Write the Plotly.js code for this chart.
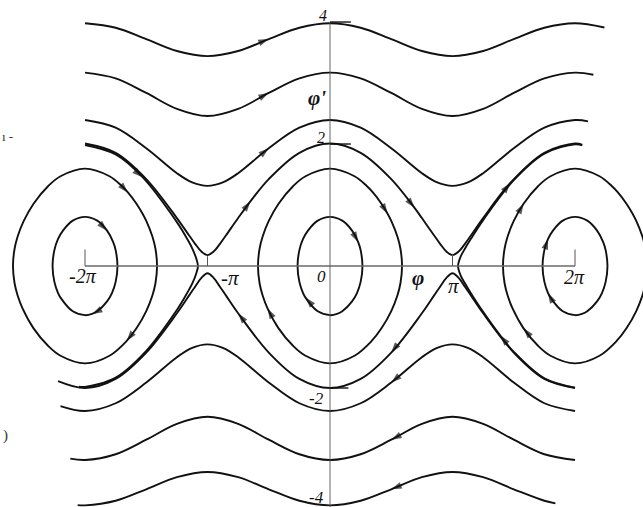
<!DOCTYPE html>
<html>
<head>
<meta charset="utf-8">
<script src="https://cdn.plot.ly/plotly-3.0.1.min.js"></script>
<style>html,body{margin:0;padding:0;background:#fff;}#chart{width:643px;height:507px;}</style>
</head>
<body>
<div id="chart"></div>
<script>
// phi in units of pi, phi' in natural units (pendulum phase portrait)
// ---- rotation curves above the axis (flow to the right) ----
const A_X = [-2, -1.75, -1.5, -1.25, -1, -0.75, -0.5, -0.25, 0, 0.25, 0.5, 0.75, 1, 1.25, 1.5, 1.75, 2, 2.24];
const A_Y = [3.98, 3.906, 3.72, 3.525, 3.441, 3.525, 3.72, 3.906, 3.98, 3.906, 3.72, 3.525, 3.441, 3.525, 3.72, 3.906, 3.98, 3.911];
const A_ARROWS = [6];

const B_X = [-2, -1.75, -1.5, -1.25, -1, -0.75, -0.5, -0.25, 0, 0.25, 0.5, 0.75, 1, 1.25, 1.5, 1.75, 2, 2.15];
const B_Y = [3.17, 3.076, 2.837, 2.576, 2.459, 2.576, 2.837, 3.076, 3.17, 3.076, 2.837, 2.576, 2.459, 2.576, 2.837, 3.076, 3.17, 3.135];
const B_ARROWS = [6];

const C_X = [-2, -1.75, -1.5, -1.25, -1.125, -1, -0.875, -0.75, -0.5, -0.25, 0, 0.25, 0.5, 0.75, 0.875, 1, 1.125, 1.25, 1.5, 1.75, 2, 2.106];
const C_Y = [2.393, 2.267, 1.93, 1.521, 1.37, 1.314, 1.37, 1.521, 1.93, 2.267, 2.393, 2.267, 1.93, 1.521, 1.37, 1.314, 1.37, 1.521, 1.93, 2.267, 2.393, 2.37];
const C_ARROWS = [8];

const D_X = [-2, -1.75, -1.5, -1.25, -1.15, -1.1, -1.05, -1, -0.95, -0.9, -0.85, -0.75, -0.65, -0.5, -0.25, 0, 0.25, 0.5, 0.69, 0.75, 0.85, 0.9, 0.95, 1, 1.05, 1.1, 1.15, 1.25, 1.47, 1.75, 2, 2.057];
const D_Y = [2.008, 1.856, 1.425, 0.786, 0.5, 0.36, 0.237, 0.179, 0.237, 0.36, 0.5, 0.786, 1.06, 1.425, 1.856, 2.008, 1.856, 1.425, 0.953, 0.786, 0.5, 0.36, 0.237, 0.179, 0.237, 0.36, 0.5, 0.786, 1.358, 1.856, 2.008, 1.99];
const D_ARROWS = [12, 18, 28];

// ---- rotation curves below the axis (flow to the left, listed right to left) ----
const A2_X = [1.84, 1.75, 1.5, 1.25, 1, 0.75, 0.5, 0.25, 0, -0.25, -0.5, -0.75, -1, -1.25, -1.5, -1.75, -2, -2.06];
const A2_Y = [-3.892, -3.849, -3.661, -3.462, -3.376, -3.462, -3.661, -3.849, -3.924, -3.849, -3.661, -3.462, -3.376, -3.462, -3.661, -3.849, -3.924, -3.92];
const A2_ARROWS = [6];

const B2_X = [2, 1.75, 1.5, 1.25, 1, 0.75, 0.5, 0.25, 0, -0.25, -0.5, -0.75, -1, -1.25, -1.5, -1.75, -2, -2.12];
const B2_Y = [-3.18, -3.086, -2.848, -2.588, -2.472, -2.588, -2.848, -3.086, -3.18, -3.086, -2.848, -2.588, -2.472, -2.588, -2.848, -3.086, -3.18, -3.158];
const B2_ARROWS = [6];

const C2_X = [2, 1.75, 1.5, 1.25, 1.125, 1, 0.875, 0.75, 0.5, 0.25, 0, -0.25, -0.5, -0.75, -0.875, -1, -1.125, -1.25, -1.5, -1.75, -2, -2.2];
const C2_Y = [-2.377, -2.25, -1.91, -1.495, -1.342, -1.285, -1.342, -1.495, -1.91, -2.25, -2.377, -2.25, -1.91, -1.495, -1.342, -1.285, -1.342, -1.495, -1.91, -2.25, -2.377, -2.296];
const C2_ARROWS = [8];

const D2_X = [2, 1.75, 1.5, 1.25, 1.15, 1.1, 1.05, 1, 0.95, 0.9, 0.85, 0.75, 0.5, 0.25, 0, -0.25, -0.5, -0.75, -0.85, -0.9, -0.95, -1, -1.05, -1.1, -1.15, -1.25, -1.5, -1.75, -2, -2.22];
const D2_Y = [-2.0, -1.851, -1.419, -0.775, -0.482, -0.335, -0.195, -0.118, -0.195, -0.335, -0.482, -0.775, -1.419, -1.851, -2.0, -1.851, -1.419, -0.775, -0.482, -0.335, -0.195, -0.118, -0.195, -0.335, -0.482, -0.775, -1.419, -1.851, -2.0, -1.886];
const D2_ARROWS = [12, 17];

// ---- closed orbits just inside the separatrix (partial, clockwise) ----
const L1_X = [-2, -1.75, -1.53, -1.25, -1.2, -1.125, -1.09, -1.078, -1.09, -1.125, -1.2, -1.25, -1.5, -1.75, -2, -2.05];
const L1_Y = [1.983, 1.829, 1.456, 0.72, 0.56, 0.29, 0.11, 0, -0.11, -0.29, -0.56, -0.72, -1.39, -1.829, -1.983, -1.977];
const L1_ARROWS = [2];

const L2_X = [2, 1.75, 1.5, 1.39, 1.25, 1.15, 1.1, 1.065, 1.045, 1.065, 1.1, 1.15, 1.25, 1.5, 1.75, 2, 2.06];
const L2_Y = [-1.995, -1.842, -1.407, -1.141, -0.752, -0.445, -0.279, -0.148, 0, 0.148, 0.279, 0.445, 0.752, 1.407, 1.842, 1.995, 1.98];
const L2_ARROWS = [3];

// ---- oscillation orbits around each stable point (offsets from the well centre) ----
const WELL_CENTERS = [-2, 0, 2];
const INNER_DX = [-0.265, -0.25, -0.22, -0.18, -0.1, 0, 0.1, 0.18, 0.23, 0.25, 0.265, 0.25, 0.22, 0.18, 0.1, 0.057, 0, -0.1, -0.2, -0.22, -0.25, -0.265];
const INNER_DY = [0, 0.26, 0.443, 0.58, 0.743, 0.806, 0.743, 0.58, 0.392, 0.26, 0, -0.26, -0.443, -0.58, -0.743, -0.786, -0.806, -0.743, -0.518, -0.443, -0.26, 0];
const INNER_ARROWS = [[7, 15], [8, 18], [2, 19]];

const OUTER_DX = [-0.588, -0.575, -0.55, -0.5, -0.42, -0.3, -0.2, 0, 0.2, 0.3, 0.35, 0.42, 0.47, 0.5, 0.55, 0.575, 0.588, 0.575, 0.55, 0.5, 0.42, 0.34, 0.2, 0, -0.2, -0.3, -0.42, -0.51, -0.55, -0.575, -0.588];
const OUTER_DY = [0, 0.283, 0.484, 0.739, 1.022, 1.312, 1.471, 1.596, 1.471, 1.312, 1.206, 1.022, 0.857, 0.739, 0.484, 0.283, 0, -0.283, -0.484, -0.739, -1.022, -1.229, -1.471, -1.596, -1.471, -1.312, -1.022, -0.695, -0.484, -0.283, 0];
const OUTER_ARROWS = [[10, 21], [12, 27], [4, 26]];

// ---- axis tick labels ----
const X_TICK_LABELS = ['-2π', '-π', '0', 'π', '2π'];
const Y_TICK_LABELS = ['4', '2', '-2', '-4'];

const INK = '#111';
const traces = [];
function addCurve(xs, ys, arrows) {
  traces.push({
    x: xs, y: ys, type: 'scatter', mode: 'lines+markers',
    line: {color: INK, width: 1.9, shape: 'spline', smoothing: 1},
    marker: {symbol: 'arrow', angleref: 'previous', color: INK,
             size: xs.map((_, i) => arrows.includes(i) ? 11 : 0), line: {width: 0}},
    hoverinfo: 'skip', showlegend: false
  });
}
addCurve(A_X, A_Y, A_ARROWS);
addCurve(B_X, B_Y, B_ARROWS);
addCurve(C_X, C_Y, C_ARROWS);
addCurve(D_X, D_Y, D_ARROWS);
addCurve(A2_X, A2_Y, A2_ARROWS);
addCurve(B2_X, B2_Y, B2_ARROWS);
addCurve(C2_X, C2_Y, C2_ARROWS);
addCurve(D2_X, D2_Y, D2_ARROWS);
addCurve(L1_X, L1_Y, L1_ARROWS);
addCurve(L2_X, L2_Y, L2_ARROWS);
WELL_CENTERS.forEach((c, k) => {
  addCurve(INNER_DX.map(d => c + d), INNER_DY, INNER_ARROWS[k]);
  addCurve(OUTER_DX.map(d => c + d), OUTER_DY, OUTER_ARROWS[k]);
});

const AX = '#555';
const shapes = [
  {type: 'line', x0: -2, x1: 2, y0: 0, y1: 0, line: {color: '#6a6a6a', width: 1.3}},
  {type: 'line', x0: 0, x1: 0, y0: -4.2, y1: 4, line: {color: AX, width: 0.9}},
  {type: 'line', x0: -2, x1: -2, y0: 0, y1: 0.27, line: {color: AX, width: 1}},
  {type: 'line', x0: 2, x1: 2, y0: 0, y1: 0.27, line: {color: AX, width: 1}},
  {type: 'line', x0: -1, x1: -1, y0: 0, y1: 0.16, line: {color: AX, width: 1}},
  {type: 'line', x0: 1, x1: 1, y0: 0, y1: 0.2, line: {color: AX, width: 1}},
  {type: 'line', x0: 0, x1: 0.17, y0: 4, y1: 4, line: {color: INK, width: 1.4}},
  {type: 'line', x0: 0, x1: 0.17, y0: 2, y1: 2, line: {color: INK, width: 1.4}},
  {type: 'line', x0: 0, x1: 0.15, y0: -2, y1: -2, line: {color: INK, width: 1.4}}
];

const f = {family: 'Liberation Serif, DejaVu Serif, serif', size: 16, color: INK, style: 'italic'};
function lab(text, x, y, size) {
  return {text: text, x: x, y: y, xref: 'x', yref: 'y', showarrow: false,
    font: Object.assign({}, f, {size: size}), xanchor: 'center', yanchor: 'middle'};
}
const annotations = [
  lab(X_TICK_LABELS[0], -2.016, -0.164, 20),
  lab(X_TICK_LABELS[1], -0.816, -0.197, 21),
  lab(X_TICK_LABELS[2], -0.073, -0.164, 17),
  lab(X_TICK_LABELS[3], 1.012, -0.33, 21),
  lab(X_TICK_LABELS[4], 1.992, -0.18, 20),
  lab(Y_TICK_LABELS[0], -0.057, 4.11, 16),
  lab(Y_TICK_LABELS[1], -0.073, 2.115, 16),
  lab(Y_TICK_LABELS[2], -0.114, -2.164, 17),
  lab(Y_TICK_LABELS[3], -0.114, -3.803, 17),
  lab('<b>φ</b>', 0.718, -0.197, 21),
  lab("<b>φ'</b>", -0.106, 2.754, 21),
  {text: 'ı -', xref: 'paper', yref: 'paper', x: 0, y: 1 - 136 / 507, xanchor: 'left', yanchor: 'middle',
   showarrow: false, font: {family: 'Liberation Serif, serif', size: 13, color: '#333'}},
  {text: ')', xref: 'paper', yref: 'paper', x: 0.002, y: 1 - 435 / 507, xanchor: 'left', yanchor: 'middle',
   showarrow: false, font: {family: 'Liberation Serif, serif', size: 15, color: '#333'}}
];

const layout = {
  width: 643, height: 507,
  margin: {l: 0, r: 0, t: 0, b: 0, pad: 0},
  paper_bgcolor: '#fff', plot_bgcolor: '#fff',
  showlegend: false,
  xaxis: {range: [-2.694, 2.555], visible: false, fixedrange: true},
  yaxis: {range: [-3.951, 4.361], visible: false, fixedrange: true},
  shapes: shapes,
  annotations: annotations
};
Plotly.newPlot('chart', traces, layout, {displayModeBar: false, staticPlot: true});
</script>
</body>
</html>
